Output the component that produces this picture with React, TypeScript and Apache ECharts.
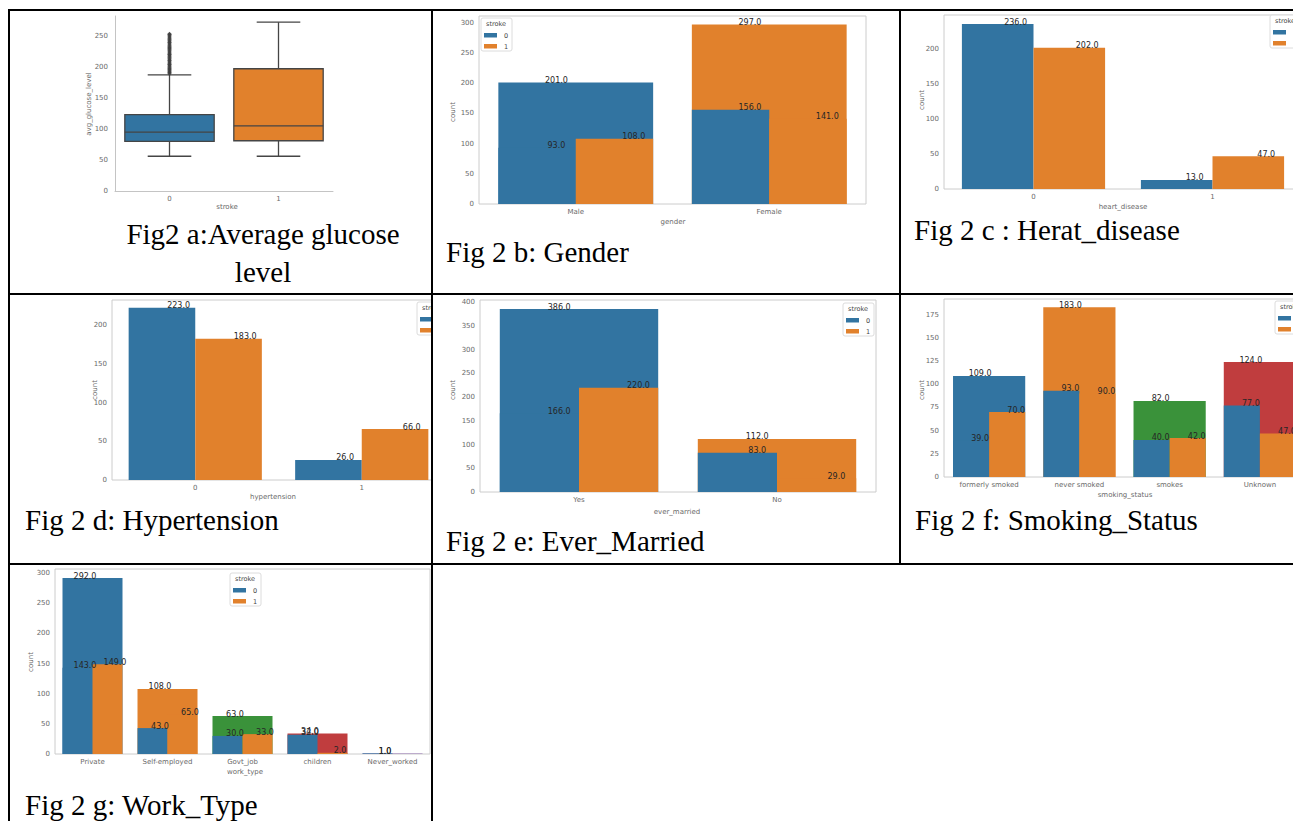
import React, { useEffect, useRef } from "react";
import * as echarts from "echarts";

// ---------- data ----------
const STROKE_LEVELS = ["0", "1"];

const GLUCOSE_CATEGORIES = ["0", "1"];
const GLUCOSE_MIN = [56, 56];
const GLUCOSE_Q1 = [80, 81];
const GLUCOSE_MEDIAN = [95, 105];
const GLUCOSE_Q3 = [123, 197];
const GLUCOSE_MAX = [187, 272];
const GLUCOSE_OUTLIERS_0 = [189, 191, 192, 194, 196, 197, 199, 201, 203, 204, 206, 208, 210, 211, 213, 215, 217, 219, 220, 222, 224, 226, 228, 230, 231, 233, 235, 237, 239, 240, 242, 244, 246, 248, 250, 252, 253];

const GENDER_CATEGORIES = ["Male", "Female"];
const GENDER_TOTAL = [201, 297];
const GENDER_STROKE0 = [93, 156];
const GENDER_STROKE1 = [108, 141];

const HEART_CATEGORIES = ["0", "1"];
const HEART_STROKE0 = [236, 13];
const HEART_STROKE1 = [202, 47];

const HYPER_CATEGORIES = ["0", "1"];
const HYPER_STROKE0 = [223, 26];
const HYPER_STROKE1 = [183, 66];

const MARRIED_CATEGORIES = ["Yes", "No"];
const MARRIED_TOTAL = [386, 112];
const MARRIED_STROKE0 = [166, 83];
const MARRIED_STROKE1 = [220, 29];

const SMOKING_CATEGORIES = ["formerly smoked", "never smoked", "smokes", "Unknown"];
const SMOKING_TOTAL = [109, 183, 82, 124];
const SMOKING_STROKE0 = [39, 93, 40, 77];
const SMOKING_STROKE1 = [70, 90, 42, 47];

const WORK_CATEGORIES = ["Private", "Self-employed", "Govt_job", "children", "Never_worked"];
const WORK_TOTAL = [292, 108, 63, 34, 1];
const WORK_STROKE0 = [143, 43, 30, 32, 1];
const WORK_STROKE1 = [149, 65, 33, 2, 0];

const CAPTIONS = [
  ["Fig2 a:Average glucose", "level"],
  ["Fig 2 b: Gender"],
  ["Fig 2 c : Herat_disease"],
  ["Fig 2 d: Hypertension"],
  ["Fig 2 e: Ever_Married"],
  ["Fig 2 f: Smoking_Status"],
  ["Fig 2 g: Work_Type"],
];

// ---------- styles ----------
const BLUE = "#3274a1";
const ORANGE = "#e1812c";
const GREEN = "#3a923a";
const RED = "#c03d3e";
const PURPLE = "#9372b2";
const PALETTE = [BLUE, ORANGE, GREEN, RED, PURPLE];
const SANS = "'DejaVu Sans', sans-serif";
const SERIF = "'Liberation Serif', 'Times New Roman', serif";
const TICK_COLOR = "#6a6a6a";
const NAME_COLOR = "#6a6a6a";

type Cell = { x: number; y: number; w: number; h: number };
type Plot = { l: number; t: number; w: number; b: number };

const CELL_A: Cell = { x: 10, y: 11, w: 421, h: 282 };
const CELL_B: Cell = { x: 433, y: 11, w: 466, h: 282 };
const CELL_C: Cell = { x: 901, y: 11, w: 392, h: 282 };
const CELL_D: Cell = { x: 10, y: 295, w: 421, h: 268 };
const CELL_E: Cell = { x: 433, y: 295, w: 466, h: 268 };
const CELL_F: Cell = { x: 901, y: 295, w: 392, h: 268 };
const CELL_G: Cell = { x: 10, y: 565, w: 421, h: 256 };

function txt(cell: Cell, x: number, y: number, text: string, opts: any = {}) {
  return {
    type: "text",
    x: x - cell.x,
    y: y - cell.y,
    rotation: opts.rotation || 0,
    z: 20,
    silent: true,
    style: {
      text,
      fill: opts.color || NAME_COLOR,
      font: `${opts.weight || "normal"} ${opts.size || 7}px ${opts.family || SANS}`,
      textAlign: opts.align || "center",
      textVerticalAlign: opts.valign || "middle",
      align: opts.align || "center",
      verticalAlign: opts.valign || "middle",
    },
  };
}

function captionGraphics(cell: Cell, lines: string[], x: number, y: number, align: string, lineGap = 38) {
  return lines.map((l, i) => txt(cell, x, y + i * lineGap, l, { size: 29, family: SERIF, color: "#000", align }));
}

function legendGraphics(cell: Cell, left: number, top: number) {
  const L = left - cell.x;
  const T = top - cell.y;
  const items: any[] = [
    {
      type: "rect",
      z: 18,
      shape: { x: L, y: T, width: 31, height: 33, r: 2 },
      style: { fill: "rgba(255,255,255,0.85)", stroke: "#dcdcdc", lineWidth: 1 },
    },
    txt(cell, left + 15, top + 6, "stroke", { size: 6.5, color: "#444" }),
  ];
  STROKE_LEVELS.forEach((lv, i) => {
    items.push({
      type: "rect",
      z: 19,
      shape: { x: L + 3, y: T + 15 + i * 11, width: 13, height: 4.5 },
      style: { fill: PALETTE[i] },
    });
    items.push(txt(cell, left + 23, top + 17.5 + i * 11, lv, { size: 6.5, color: "#444", align: "left" }));
  });
  return items;
}

function barLayer(values: number[], start: number, end: number, colorFor: (i: number) => string, z: number) {
  return {
    type: "custom",
    z,
    silent: true,
    data: values.map((v, i) => [i, v]),
    encode: { x: 0, y: 1 },
    renderItem: (params: any, api: any) => {
      const i = api.value(0);
      const v = api.value(1);
      const base = api.coord([i, 0]);
      const top = api.coord([i, v]);
      const band = api.size([1, 0])[0];
      return {
        type: "rect",
        shape: { x: base[0] + start * band, y: top[1], width: (end - start) * band, height: base[1] - top[1] },
        style: { fill: colorFor(i) },
      };
    },
  };
}

function labelLayer(values: number[], start: number, z: number) {
  return {
    type: "custom",
    z,
    silent: true,
    data: values.map((v, i) => [i, v]).filter((d) => d[1] > 0),
    encode: { x: 0, y: 1 },
    renderItem: (params: any, api: any) => {
      const i = api.value(0);
      const v = api.value(1);
      const c = api.coord([i, v]);
      const band = api.size([1, 0])[0];
      return {
        type: "text",
        x: c[0] + (start + 0.3) * band,
        y: c[1] - 2,
        style: {
          text: v.toFixed(1),
          fill: "#262626",
          font: `8px ${SANS}`,
          textAlign: "center",
          textVerticalAlign: "middle",
          align: "center",
          verticalAlign: "middle",
        },
      };
    },
  };
}

function yAxisOpt(yMax: number, interval: number, margin = 5) {
  return {
    type: "value",
    min: 0,
    max: yMax,
    interval,
    splitLine: { show: false },
    axisLine: { show: false },
    axisTick: { show: false },
    axisLabel: {
      fontSize: 7,
      fontFamily: SANS,
      color: TICK_COLOR,
      margin,
      formatter: (v: number) => (Math.abs(v % interval) < 1e-6 ? String(v) : ""),
    },
  };
}

function xAxisOpt(categories: string[], margin = 4) {
  return {
    type: "category",
    data: categories,
    axisLine: { show: false },
    axisTick: { show: false },
    splitLine: { show: false },
    axisLabel: { fontSize: 7, fontFamily: SANS, color: TICK_COLOR, margin, interval: 0 },
  };
}

function gridOpt(cell: Cell, p: Plot, frame = true) {
  return {
    left: p.l - cell.x,
    top: p.t - cell.y,
    width: p.w,
    height: p.b - p.t,
    show: frame,
    borderColor: "#cccccc",
    borderWidth: 1,
    backgroundColor: "transparent",
    containLabel: false,
    outerBoundsMode: "none",
  };
}

type BarCfg = {
  cell: Cell;
  plot: Plot;
  yMax: number;
  interval: number;
  categories: string[];
  total?: number[];
  s0: number[];
  s1: number[];
  xName: string;
  xNamePos: [number, number];
  yNamePos: [number, number];
  legend: [number, number];
  caption: string[];
  captionPos: [number, number];
  xLabelMargin?: number;
};

function barOption(c: BarCfg) {
  const series: any[] = [];
  if (c.total) series.push(barLayer(c.total, -0.4, 0.4, (i) => PALETTE[i % PALETTE.length], 1));
  series.push(barLayer(c.s0, -0.4, 0, () => BLUE, 2));
  series.push(barLayer(c.s1, 0, 0.4, () => ORANGE, 3));
  if (c.total) series.push(labelLayer(c.total, -0.4, 10));
  series.push(labelLayer(c.s0, -0.4, 10));
  series.push(labelLayer(c.s1, 0, 10));
  return {
    animation: false,
    grid: gridOpt(c.cell, c.plot),
    xAxis: xAxisOpt(c.categories, c.xLabelMargin ?? 4),
    yAxis: yAxisOpt(c.yMax, c.interval),
    series,
    graphic: {
      elements: [
        txt(c.cell, c.xNamePos[0], c.xNamePos[1], c.xName),
        txt(c.cell, c.yNamePos[0], c.yNamePos[1], "count", { rotation: Math.PI / 2 }),
        ...legendGraphics(c.cell, c.legend[0], c.legend[1]),
        ...captionGraphics(c.cell, c.caption, c.captionPos[0], c.captionPos[1], "left"),
      ],
    },
  };
}

function boxOption() {
  const cell = CELL_A;
  const plot: Plot = { l: 115, t: 16, w: 218, b: 191 };
  const boxData = GLUCOSE_CATEGORIES.map((_, i) => [i, GLUCOSE_MIN[i], GLUCOSE_Q1[i], GLUCOSE_MEDIAN[i], GLUCOSE_Q3[i], GLUCOSE_MAX[i]]);
  const stroke = "#454545";
  const lw = 1.3;
  return {
    animation: false,
    grid: gridOpt(cell, plot, false),
    xAxis: { ...xAxisOpt(GLUCOSE_CATEGORIES, 4), axisLine: { show: true, lineStyle: { color: "#c4c4c4", width: 1 } } },
    yAxis: { ...yAxisOpt(282, 50, 7), axisLine: { show: true, lineStyle: { color: "#c4c4c4", width: 1 } } },
    series: [
      {
        type: "custom",
        silent: true,
        data: boxData,
        encode: { x: 0, y: [1, 2, 3, 4, 5] },
        renderItem: (params: any, api: any) => {
          const i = api.value(0);
          const pMin = api.coord([i, api.value(1)]);
          const cx = pMin[0];
          const yMin = pMin[1];
          const yQ1 = api.coord([i, api.value(2)])[1];
          const yMed = api.coord([i, api.value(3)])[1];
          const yQ3 = api.coord([i, api.value(4)])[1];
          const yMax = api.coord([i, api.value(5)])[1];
          const band = api.size([1, 0])[0];
          const bw = band * 0.82;
          const cap = band * 0.2;
          const ls = { stroke, lineWidth: lw };
          return {
            type: "group",
            children: [
              { type: "line", shape: { x1: cx, y1: yQ3, x2: cx, y2: yMax }, style: ls },
              { type: "line", shape: { x1: cx, y1: yQ1, x2: cx, y2: yMin }, style: ls },
              { type: "line", shape: { x1: cx - cap, y1: yMax, x2: cx + cap, y2: yMax }, style: ls },
              { type: "line", shape: { x1: cx - cap, y1: yMin, x2: cx + cap, y2: yMin }, style: ls },
              { type: "rect", shape: { x: cx - bw / 2, y: yQ3, width: bw, height: yQ1 - yQ3 }, style: { fill: PALETTE[i], stroke, lineWidth: lw } },
              { type: "line", shape: { x1: cx - bw / 2, y1: yMed, x2: cx + bw / 2, y2: yMed }, style: ls },
            ],
          };
        },
      },
      {
        type: "scatter",
        silent: true,
        symbol: "diamond",
        symbolSize: 4.5,
        itemStyle: { color: "#3d3d3d" },
        data: GLUCOSE_OUTLIERS_0.map((v) => [0, v]),
        z: 5,
      },
    ],
    graphic: {
      elements: [
        txt(cell, 227, 207, "stroke"),
        txt(cell, 89, 104, "avg_glucose_level", { rotation: Math.PI / 2 }),
        ...captionGraphics(cell, CAPTIONS[0], 263, 234, "center", 38),
      ],
    },
  };
}

const OPTIONS: { cell: Cell; option: any }[] = [
  { cell: CELL_A, option: boxOption() },
  {
    cell: CELL_B,
    option: barOption({
      cell: CELL_B,
      plot: { l: 479, t: 16, w: 387, b: 204 },
      yMax: 311,
      interval: 50,
      categories: GENDER_CATEGORIES,
      total: GENDER_TOTAL,
      s0: GENDER_STROKE0,
      s1: GENDER_STROKE1,
      xName: "gender",
      xNamePos: [673, 222],
      yNamePos: [453, 112],
      legend: [481, 18],
      caption: CAPTIONS[1],
      captionPos: [446, 252],
    }),
  },
  {
    cell: CELL_C,
    option: barOption({
      cell: CELL_C,
      plot: { l: 944, t: 15, w: 358, b: 189 },
      yMax: 249,
      interval: 50,
      categories: HEART_CATEGORIES,
      s0: HEART_STROKE0,
      s1: HEART_STROKE1,
      xName: "heart_disease",
      xNamePos: [1123, 207],
      yNamePos: [922, 100],
      legend: [1270, 15],
      caption: CAPTIONS[2],
      captionPos: [914, 230],
    }),
  },
  {
    cell: CELL_D,
    option: barOption({
      cell: CELL_D,
      plot: { l: 112, t: 300, w: 333, b: 480 },
      yMax: 233,
      interval: 50,
      categories: HYPER_CATEGORIES,
      s0: HYPER_STROKE0,
      s1: HYPER_STROKE1,
      xName: "hypertension",
      xNamePos: [273, 497],
      yNamePos: [95, 390],
      legend: [417, 302],
      caption: CAPTIONS[3],
      captionPos: [25, 520],
    }),
  },
  {
    cell: CELL_E,
    option: barOption({
      cell: CELL_E,
      plot: { l: 480, t: 300, w: 396, b: 492 },
      yMax: 405,
      interval: 50,
      categories: MARRIED_CATEGORIES,
      total: MARRIED_TOTAL,
      s0: MARRIED_STROKE0,
      s1: MARRIED_STROKE1,
      xName: "ever_married",
      xNamePos: [677, 512],
      yNamePos: [453, 390],
      legend: [843, 303],
      caption: CAPTIONS[4],
      captionPos: [446, 541],
    }),
  },
  {
    cell: CELL_F,
    option: barOption({
      cell: CELL_F,
      plot: { l: 944, t: 299, w: 361, b: 477 },
      yMax: 192,
      interval: 25,
      categories: SMOKING_CATEGORIES,
      total: SMOKING_TOTAL,
      s0: SMOKING_STROKE0,
      s1: SMOKING_STROKE1,
      xName: "smoking_status",
      xNamePos: [1125, 495],
      yNamePos: [922, 390],
      legend: [1275, 301],
      caption: CAPTIONS[5],
      captionPos: [915, 520],
    }),
  },
  {
    cell: CELL_G,
    option: barOption({
      cell: CELL_G,
      plot: { l: 55, t: 569, w: 375, b: 754 },
      yMax: 307,
      interval: 50,
      categories: WORK_CATEGORIES,
      total: WORK_TOTAL,
      s0: WORK_STROKE0,
      s1: WORK_STROKE1,
      xName: "work_type",
      xNamePos: [245, 772],
      yNamePos: [31, 662],
      legend: [230, 573],
      caption: CAPTIONS[6],
      captionPos: [25, 805],
    }),
  },
];

function Chart({ cell, option }: { cell: Cell; option: any }) {
  const ref = useRef<HTMLDivElement>(null);
  useEffect(() => {
    const el = ref.current;
    if (!el) return;
    const chart = echarts.init(el, undefined, { renderer: "svg", width: cell.w, height: cell.h });
    chart.setOption(option);
    return () => chart.dispose();
  }, []);
  return (
    <div
      ref={ref}
      style={{ position: "absolute", left: cell.x, top: cell.y, width: cell.w, height: cell.h, overflow: "hidden" }}
    />
  );
}

const LINES = [
  { left: 8, top: 9, width: 1290, height: 2 },
  { left: 8, top: 293, width: 1290, height: 2 },
  { left: 8, top: 563, width: 1290, height: 2 },
  { left: 8, top: 9, width: 2, height: 820 },
  { left: 431, top: 9, width: 2, height: 820 },
  { left: 899, top: 9, width: 2, height: 556 },
];

export default function App() {
  return (
    <div style={{ position: "fixed", left: 0, top: 0, width: 1293, height: 821, overflow: "hidden", background: "#fff" }}>
      {OPTIONS.map((o, i) => (
        <Chart key={i} cell={o.cell} option={o.option} />
      ))}
      {LINES.map((l, i) => (
        <div key={"l" + i} style={{ position: "absolute", background: "#000", ...l }} />
      ))}
    </div>
  );
}
